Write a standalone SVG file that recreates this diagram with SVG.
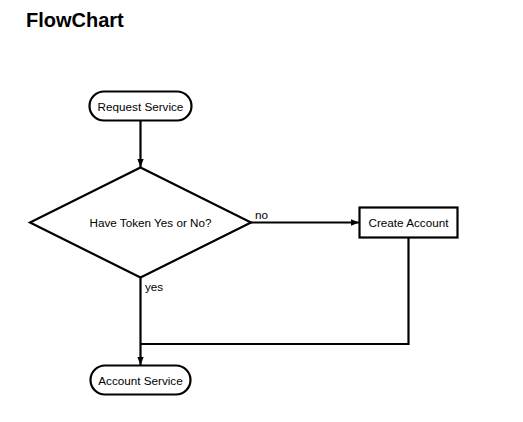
<svg xmlns="http://www.w3.org/2000/svg" width="523" height="422" viewBox="0 0 523 422">
<defs>
<style>
.node{fill:#fff;stroke:#000;stroke-width:2.2}
.lbl{font-family:"Liberation Sans",Arial,sans-serif;font-size:11.7px;fill:#000;text-anchor:middle;dominant-baseline:central}
.elbl{font-family:"Liberation Sans",Arial,sans-serif;font-size:11.7px;fill:#000}
.edge{fill:none;stroke:#000;stroke-width:2.2}
</style>
<marker id="arr" viewBox="0 0 10 10" refX="10" refY="5" markerWidth="3.6" markerHeight="3.6" orient="auto" markerUnits="strokeWidth">
<path d="M0,1 L10,5 L0,9 z" fill="#000"/>
</marker>
</defs>
<rect width="523" height="422" fill="#fff"/>
<text x="26" y="27" font-family="Liberation Sans,Arial,sans-serif" font-size="20" font-weight="bold">FlowChart</text>
<g id="connectors">
<path class="edge" d="M140.5,121 L140.5,167" marker-end="url(#arr)"/>
<path class="edge" d="M251,222.5 L359,222.5" marker-end="url(#arr)"/>
<path class="edge" d="M140.5,277 L140.5,365" marker-end="url(#arr)"/>
<path class="edge" d="M408.5,237 L408.5,344 L140.5,344"/>
<text class="elbl" x="255" y="219">no</text>
<text class="elbl" x="145" y="291">yes</text>
</g>
<g id="request">
<rect class="node" x="89.5" y="91.5" width="102" height="29" rx="14.5"/>
<text class="lbl" x="140.5" y="106.5">Request Service</text>
</g>
<g id="decision">
<polygon class="node" points="140.5,167.5 251,222.5 140.5,277.5 30,222.5"/>
<text class="lbl" x="150.5" y="222.5">Have Token Yes or No?</text>
</g>
<g id="create">
<rect class="node" x="359.5" y="207.5" width="98" height="30"/>
<text class="lbl" x="408.5" y="222.5">Create Account</text>
</g>
<g id="account">
<rect class="node" x="90.5" y="365.5" width="100" height="29" rx="14.5"/>
<text class="lbl" x="140.5" y="380">Account Service</text>
</g>
</svg>
